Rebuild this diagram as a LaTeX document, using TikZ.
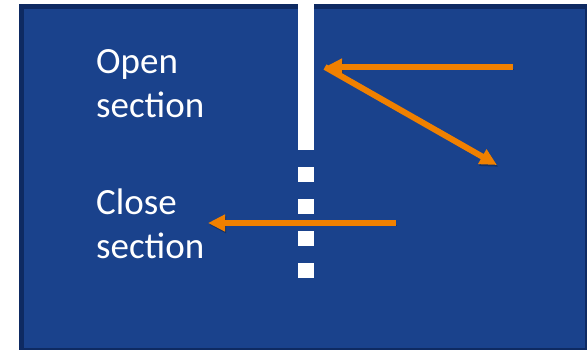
\documentclass[tikz,border=0pt]{standalone}
\usepackage{fontspec}
\setmainfont{Carlito}
\usetikzlibrary{positioning}
\usetikzlibrary{arrows.meta}
\definecolor{slideblue}{RGB}{26,66,140}
\definecolor{slideedge}{RGB}{14,42,98}
\definecolor{arroworange}{RGB}{240,128,0}

\begin{document}
\begin{tikzpicture}[
    x=1pt, y=-1pt,
    lbl/.style={text=white, font=\fontsize{37}{44}\selectfont, inner sep=0, anchor=base west},
    wall/.style={fill=white, draw=none},
    oarrow/.style={-{Triangle[length=17pt, width=16pt]}, line width=6pt, draw=arroworange,
        preaction={draw=black, opacity=0.25, transform canvas={shift={(1.2pt,-1.8pt)}}}}
]
\useasboundingbox (0,0) rectangle (588,351);

% Background
\fill[slideedge] (19,4) rectangle (587,350);
\fill[slideblue] (24,9) rectangle (585,348);

% Wall
\fill[wall] (297.5,0) rectangle (313.5,150);
\foreach \y in {167,199,231,263}
  \fill[wall] (297.5,\y) rectangle (313.5,\y+15);

% Labels
\node[lbl] (open) at (96,73) {Open};
\node[lbl] (opensec) at ([yshift=-44pt]open.base west) {section};
\node[lbl] (close) at (96,214) {Close};
\node[lbl] (closesec) at ([yshift=-44pt]close.base west) {section};

% Arrows
\coordinate (inc) at (513,67);
\coordinate (hit) at (325,67);
\coordinate (refl) at (497,165);
\draw[oarrow] (inc) -- (hit);
\draw[oarrow] (hit) -- (refl);

\coordinate (tsrc) at (396,223);
\coordinate (ttgt) at (208,223);
\draw[oarrow] (tsrc) -- (ttgt);

\end{tikzpicture}
\end{document}
